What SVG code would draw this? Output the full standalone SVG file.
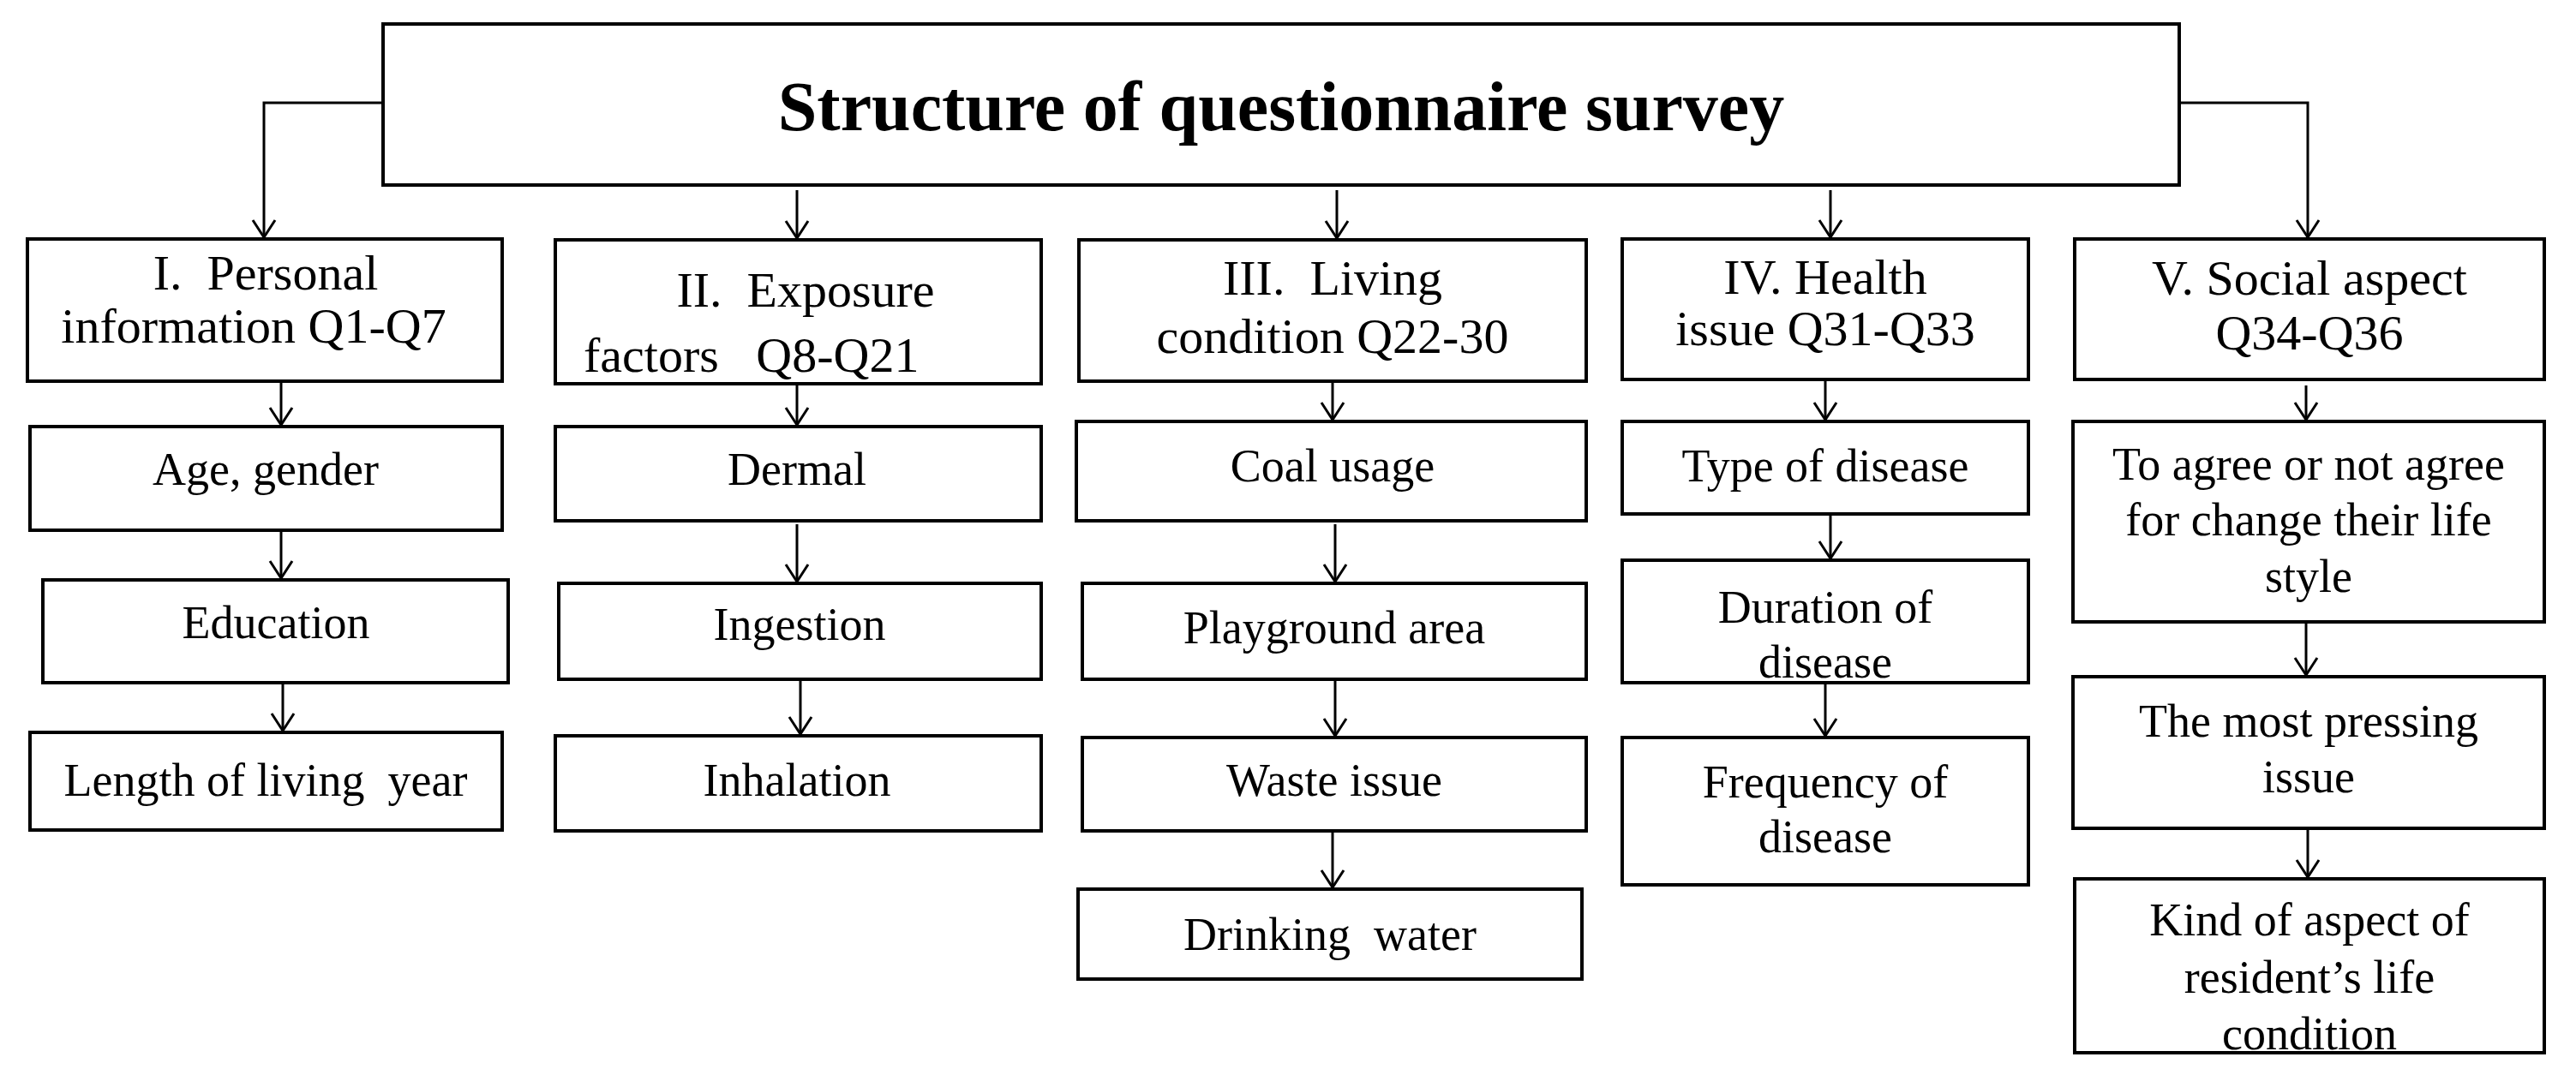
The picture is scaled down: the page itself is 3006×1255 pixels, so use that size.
<svg xmlns="http://www.w3.org/2000/svg" width="3006" height="1255" viewBox="0 0 3006 1255">
<style>
rect{fill:#fff;stroke:#000;stroke-width:4}
text{font-family:"Liberation Serif","Times New Roman",serif;fill:#000;text-anchor:middle;white-space:pre}
.h{font-size:58px}
.b{font-size:54px}
.t{font-size:82px;font-weight:bold}
#connectors path{fill:none;stroke:#000;stroke-width:3}
</style>
<defs><marker id="a" markerWidth="30" markerHeight="30" refX="28" refY="15" orient="auto" markerUnits="userSpaceOnUse" viewBox="0 0 30 30"><polyline points="8,2 28,15 8,28" fill="none" stroke="#000" stroke-width="3"/></marker></defs>
<rect width="3006" height="1255" style="fill:#fff;stroke:none"/>
<g id="connectors">
<path d="M447 120H308V277" marker-end="url(#a)"/>
<path d="M2543 120H2693V277" marker-end="url(#a)"/>
<path d="M930 222V278" marker-end="url(#a)"/>
<path d="M1560 222V278" marker-end="url(#a)"/>
<path d="M2136 222V277" marker-end="url(#a)"/>
<path d="M328 447V496" marker-end="url(#a)"/>
<path d="M328 621V675" marker-end="url(#a)"/>
<path d="M330 795V853" marker-end="url(#a)"/>
<path d="M930 450V496" marker-end="url(#a)"/>
<path d="M930 612V679" marker-end="url(#a)"/>
<path d="M934 795V857" marker-end="url(#a)"/>
<path d="M1555 447V490" marker-end="url(#a)"/>
<path d="M1558 612V679" marker-end="url(#a)"/>
<path d="M1558 795V859" marker-end="url(#a)"/>
<path d="M1555 972V1036" marker-end="url(#a)"/>
<path d="M2130 445V490" marker-end="url(#a)"/>
<path d="M2136 602V652" marker-end="url(#a)"/>
<path d="M2130 799V859" marker-end="url(#a)"/>
<path d="M2691 450V490" marker-end="url(#a)"/>
<path d="M2691 728V788" marker-end="url(#a)"/>
<path d="M2693 969V1024" marker-end="url(#a)"/>
</g>
<g id="title"><rect x="447" y="28" width="2096" height="188"/><text class="t" x="1495" y="152">Structure of questionnaire survey</text></g>
<g id="h1"><rect x="32" y="279" width="554" height="166"/><text class="h" x="310" y="338">I.  Personal</text><text class="h" x="296" y="400">information Q1-Q7</text></g>
<g id="n1a"><rect x="35" y="498" width="551" height="121"/><text class="b" x="310" y="566">Age, gender</text></g>
<g id="n1b"><rect x="50" y="677" width="543" height="120"/><text class="b" x="322" y="745">Education</text></g>
<g id="n1c"><rect x="35" y="855" width="551" height="114"/><text class="b" x="310" y="929">Length of living  year</text></g>
<g id="h2"><rect x="648" y="280" width="567" height="168"/><text class="h" x="940" y="358">II.  Exposure</text><text class="h" x="681" y="434" style="text-anchor:start">factors   Q8-Q21</text></g>
<g id="n2a"><rect x="648" y="498" width="567" height="110"/><text class="b" x="930" y="566">Dermal</text></g>
<g id="n2b"><rect x="652" y="681" width="563" height="112"/><text class="b" x="933" y="747">Ingestion</text></g>
<g id="n2c"><rect x="648" y="859" width="567" height="111"/><text class="b" x="930" y="929">Inhalation</text></g>
<g id="h3"><rect x="1259" y="280" width="592" height="165"/><text class="h" x="1555" y="344">III.  Living</text><text class="h" x="1555" y="412">condition Q22-30</text></g>
<g id="n3a"><rect x="1256" y="492" width="595" height="116"/><text class="b" x="1555" y="562">Coal usage</text></g>
<g id="n3b"><rect x="1263" y="681" width="588" height="112"/><text class="b" x="1557" y="751">Playground area</text></g>
<g id="n3c"><rect x="1263" y="861" width="588" height="109"/><text class="b" x="1557" y="929">Waste issue</text></g>
<g id="n3d"><rect x="1258" y="1038" width="588" height="105"/><text class="b" x="1552" y="1109">Drinking  water</text></g>
<g id="h4"><rect x="1893" y="279" width="474" height="164"/><text class="h" x="2130" y="343">IV. Health</text><text class="h" x="2130" y="403">issue Q31-Q33</text></g>
<g id="n4a"><rect x="1893" y="492" width="474" height="108"/><text class="b" x="2130" y="562">Type of disease</text></g>
<g id="n4b"><rect x="1893" y="654" width="474" height="143"/><text class="b" x="2130" y="727">Duration of</text><text class="b" x="2130" y="791">disease</text></g>
<g id="n4c"><rect x="1893" y="861" width="474" height="172"/><text class="b" x="2130" y="931">Frequency of</text><text class="b" x="2130" y="995">disease</text></g>
<g id="h5"><rect x="2421" y="279" width="548" height="164"/><text class="h" x="2695" y="344">V. Social aspect</text><text class="h" x="2695" y="408">Q34-Q36</text></g>
<g id="n5a"><rect x="2419" y="492" width="550" height="234"/><text class="b" x="2694" y="560">To agree or not agree</text><text class="b" x="2694" y="625">for change their life</text><text class="b" x="2694" y="691">style</text></g>
<g id="n5b"><rect x="2419" y="790" width="550" height="177"/><text class="b" x="2694" y="860">The most pressing</text><text class="b" x="2694" y="925">issue</text></g>
<g id="n5c"><rect x="2421" y="1026" width="548" height="203"/><text class="b" x="2695" y="1092">Kind of aspect of</text><text class="b" x="2695" y="1159">resident’s life</text><text class="b" x="2695" y="1225">condition</text></g>
</svg>
